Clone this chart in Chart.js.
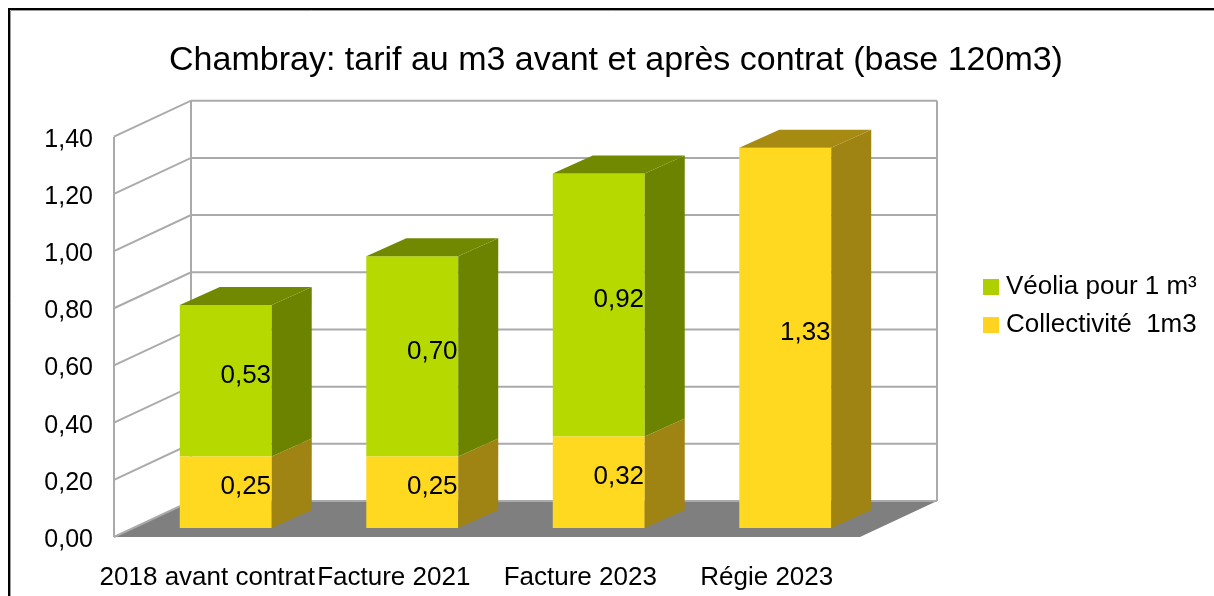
<!DOCTYPE html>
<html>
<head>
<meta charset="utf-8">
<script src="https://cdn.jsdelivr.net/npm/chart.js@4"></script>
<style>
html,body{margin:0;padding:0;background:#fff}
canvas{display:block}
</style>
</head>
<body>
<canvas id="c" width="1214" height="596"></canvas>
<script>
// data
const categories = ['2018 avant contrat', 'Facture 2021', 'Facture 2023', 'Régie 2023']
const collectivite = [0.25, 0.25, 0.32, 1.33]
const veolia = [0.53, 0.70, 0.92, 0]
const seriesNames = ['Collectivité  1m3', 'Véolia pour 1 m³']
const titre = 'Chambray: tarif au m3 avant et après contrat (base 120m3)'

// colours: front, side, top, legend
const jaune = {front: '#ffd920', side: '#9f8414', top: '#a68a12', legend: '#ffd320'}
const vert = {front: '#b6d900', side: '#6c8300', top: '#718900', legend: '#aecf00'}

const FONT = '"Liberation Sans", Arial, sans-serif'
const DEPTH = {x: 77, y: -36}     // back wall offset
const BAR_OFF = {x: 18.5, y: -9}  // bar front plane offset
const BAR_D = {x: 40, y: -18}     // bar depth

const fmt = v => v.toFixed(2).replace('.', ',')
const styles = [jaune, vert]

const poly = (ctx, pts, fill) => {
    ctx.beginPath()
    ctx.moveTo(pts[0][0], pts[0][1])
    for (let i = 1; i < pts.length; i++) ctx.lineTo(pts[i][0], pts[i][1])
    ctx.closePath()
    ctx.fillStyle = fill
    ctx.fill()
}

const box3d = {
    id: 'box3d',
    beforeDatasetsDraw(chart) {
        const {ctx, chartArea: a, scales: {y}} = chart
        ctx.save()
        poly(ctx, [[a.left, a.bottom], [a.right, a.bottom], [a.right + DEPTH.x, a.bottom + DEPTH.y], [a.left + DEPTH.x, a.bottom + DEPTH.y]], '#7f7f7f')
        ctx.strokeStyle = '#aaaaaa'
        ctx.lineWidth = 2
        y.ticks.forEach(t => {
            const py = y.getPixelForValue(t.value)
            ctx.beginPath()
            ctx.moveTo(a.left, py)
            ctx.lineTo(a.left + DEPTH.x, py + DEPTH.y)
            ctx.lineTo(a.right + DEPTH.x, py + DEPTH.y)
            ctx.stroke()
        })
        ctx.beginPath()
        ctx.moveTo(a.left, a.top); ctx.lineTo(a.left, a.bottom)
        ctx.moveTo(a.left + DEPTH.x, a.top + DEPTH.y); ctx.lineTo(a.left + DEPTH.x, a.bottom + DEPTH.y)
        ctx.moveTo(a.right + DEPTH.x, a.top + DEPTH.y); ctx.lineTo(a.right + DEPTH.x, a.bottom + DEPTH.y)
        ctx.stroke()
        ctx.restore()
        ctx.save()
        ctx.translate(BAR_OFF.x, BAR_OFF.y)
    },
    afterDatasetsDraw(chart) {
        const {ctx} = chart
        const sets = chart.data.datasets
        categories.forEach((c, i) => {
            sets.forEach((ds, di) => {
                const v = ds.data[i]
                if (!v) return
                const bar = chart.getDatasetMeta(di).data[i]
                const {x, y, base, width} = bar.getProps(['x', 'y', 'base', 'width'], true)
                const l = x - width / 2, r = x + width / 2
                const t = Math.min(y, base), b = Math.max(y, base)
                poly(ctx, [[r, t], [r + BAR_D.x, t + BAR_D.y], [r + BAR_D.x, b + BAR_D.y], [r, b]], styles[di].side)
                const topmost = sets.slice(di + 1).every(o => !o.data[i])
                if (topmost) poly(ctx, [[l, t], [r, t], [r + BAR_D.x, t + BAR_D.y], [l + BAR_D.x, t + BAR_D.y]], styles[di].top)
            })
        })
        ctx.font = '26px ' + FONT
        ctx.fillStyle = '#000'
        ctx.textAlign = 'center'
        ctx.textBaseline = 'middle'
        categories.forEach((c, i) => {
            sets.forEach((ds, di) => {
                const v = ds.data[i]
                if (!v) return
                const bar = chart.getDatasetMeta(di).data[i]
                const {x, y, base} = bar.getProps(['x', 'y', 'base'], true)
                ctx.fillText(fmt(v), x + 20, (y + base) / 2 - 5)
            })
        })
        ctx.restore()
    },
    afterDraw(chart) {
        const {ctx} = chart
        ctx.save()
        // title
        ctx.font = '34px ' + FONT
        ctx.fillStyle = '#000'
        ctx.textAlign = 'center'
        ctx.textBaseline = 'middle'
        ctx.fillText(titre, 616, 61)
        // legend (Véolia first)
        ctx.font = '26px ' + FONT
        ctx.textAlign = 'left'
        const order = [1, 0]
        order.forEach((di, k) => {
            const cy = 287 + k * 38
            ctx.fillStyle = styles[di].legend
            ctx.fillRect(983, cy - 8, 16, 16)
            ctx.fillStyle = '#000'
            ctx.fillText(chart.data.datasets[di].label, 1006, cy)
        })
        // frame
        ctx.strokeStyle = '#000'
        ctx.lineWidth = 2
        ctx.beginPath()
        ctx.moveTo(9, 596); ctx.lineTo(9, 9); ctx.lineTo(1214, 9)
        ctx.stroke()
        ctx.strokeStyle = '#9a9a9a'
        ctx.lineWidth = 1
        ctx.beginPath()
        ctx.moveTo(10.5, 596); ctx.lineTo(10.5, 10.5); ctx.lineTo(1214, 10.5)
        ctx.stroke()
        ctx.restore()
    }
}

Chart.defaults.font.family = FONT

new Chart(document.getElementById('c'), {
    type: 'bar',
    data: {
        labels: categories,
        datasets: [
            {label: seriesNames[0], data: collectivite, backgroundColor: jaune.front, borderWidth: 0},
            {label: seriesNames[1], data: veolia, backgroundColor: vert.front, borderWidth: 0}
        ]
    },
    options: {
        responsive: false,
        animation: false,
        layout: {padding: {left: 0, top: 136.7, right: 354, bottom: 0}},
        datasets: {bar: {categoryPercentage: 1, barPercentage: 0.493, clip: false}},
        scales: {
            x: {
                stacked: true,
                grid: {display: false},
                border: {display: false},
                ticks: {color: '#000', font: {size: 26}, padding: 17, maxRotation: 0, minRotation: 0, autoSkip: false},
                afterFit: s => { s.height = 59 }
            },
            y: {
                stacked: true,
                min: 0,
                max: 1.4,
                grid: {display: false, drawTicks: false},
                border: {display: false},
                ticks: {stepSize: 0.2, color: '#000', font: {size: 25}, padding: 21, labelOffset: 3, callback: v => fmt(v)},
                afterFit: s => { s.width = 114 }
            }
        },
        plugins: {
            legend: {display: false},
            title: {display: false},
            tooltip: {enabled: false}
        }
    },
    plugins: [box3d]
})
</script>
</body>
</html>
